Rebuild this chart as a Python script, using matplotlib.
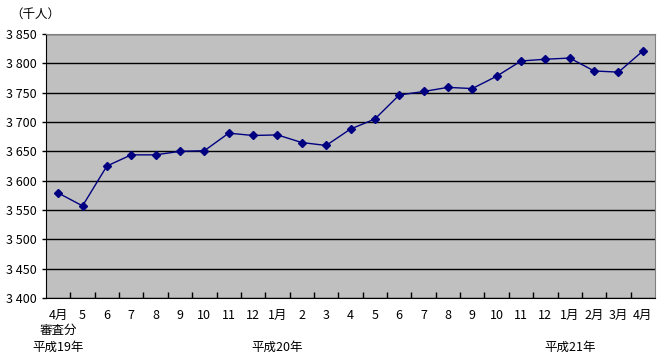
import numpy as np
import matplotlib
matplotlib.use('Agg')
import matplotlib.pyplot as plt
from matplotlib.ticker import FuncFormatter, FixedLocator

plt.rcParams['font.family'] = ['Noto Sans CJK JP', 'DejaVu Sans']

# 月ラベル（平成19年4月〜平成21年4月）
months = ['4月', '5', '6', '7', '8', '9', '10', '11', '12', '1月', '2', '3',
          '4', '5', '6', '7', '8', '9', '10', '11', '12', '1月', '2月', '3月', '4月']
# 値（千人）
values = [3579, 3557, 3625, 3644, 3644, 3650, 3651, 3681, 3677, 3678, 3665, 3660,
          3688, 3705, 3746, 3752, 3759, 3757, 3778, 3804, 3807, 3809, 3787, 3785, 3821]
# 年ラベル
year_labels = ['平成19年', '平成20年', '平成21年']
year_pos = [0, 9, 21]

fig = plt.figure(figsize=(6.64, 3.58), dpi=100, facecolor='white')
ax = fig.add_axes([46 / 664, 1 - 298 / 358, 609 / 664, 264 / 358])
ax.set_facecolor('#c0c0c0')

x = np.arange(len(values))
ax.plot(x, values, color='#000080', lw=1, marker='D', markersize=4.5,
        markerfacecolor='#000080', markeredgecolor='#000080', zorder=3)

ax.set_xlim(-0.5, len(values) - 0.5)
ax.set_ylim(3400, 3850)
ax.set_yticks(np.arange(3400, 3851, 50))
ax.yaxis.set_major_formatter(FuncFormatter(lambda v, p: '{:,}'.format(int(v)).replace(',', ' ')))
ax.yaxis.grid(True, color='black', lw=1)
ax.set_axisbelow(True)

ax.set_xticks(x)
ax.set_xticklabels(months)
ax.xaxis.set_minor_locator(FixedLocator(np.arange(0.5, len(values) - 1, 1)))
ax.tick_params(axis='x', which='major', length=0, pad=8, labelsize=9)
ax.tick_params(axis='x', which='minor', direction='in', length=4, width=1)
ax.tick_params(axis='y', length=3, width=1, labelsize=9, pad=4)

for s in ['top', 'right']:
    ax.spines[s].set_color('#808080')
for s in ['left', 'bottom']:
    ax.spines[s].set_color('black')

# 審査分
ax.text(0, -0.122, '審査分', transform=ax.get_xaxis_transform(), ha='center', va='center', fontsize=9)
for lab, pos in zip(year_labels, year_pos):
    ax.text(pos, -0.186, lab, transform=ax.get_xaxis_transform(), ha='center', va='center', fontsize=9)

fig.text(10 / 664, 1 - 14 / 358, '（千人）', ha='left', va='center', fontsize=9)

fig.savefig('out.png', dpi=100)
